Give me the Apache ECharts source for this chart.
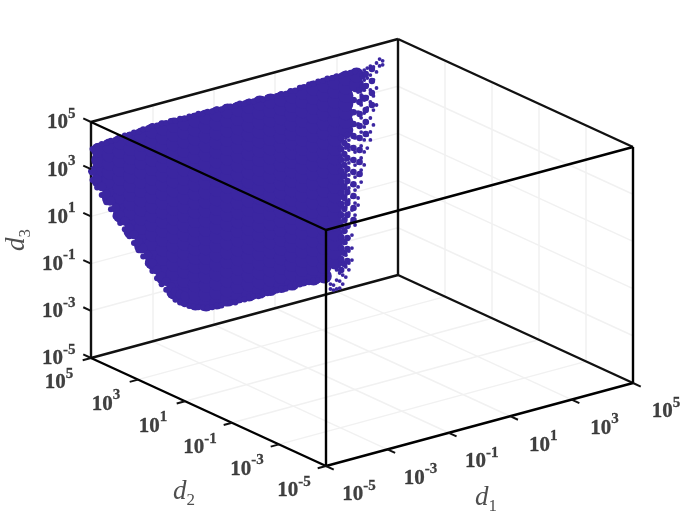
<!DOCTYPE html>
<html>
<head>
<meta charset="utf-8">
<style>
  html, body { margin: 0; padding: 0; background: #fff; }
  #main { width: 700px; height: 525px; }
</style>
<script src="https://cdn.jsdelivr.net/npm/echarts@6/dist/echarts.min.js"></script>
</head>
<body>
<div id="main"></div>
<script>
// decade exponents used on all three log axes
var tickExp = [-5, -3, -1, 1, 3, 5]
var tickLabels = ['-5', '-3', '-1', '1', '3', '5']

// the picture is one view, so the depth of the cloud can't be read: it is put at d2 = 10^5
var cloudD2 = 5

var denseD1 = [-4.75, -4.4, -4.05, -3.7, -3.35, -3, -2.65, -2.3, -1.95, -1.6, -1.25, -0.9, -0.55, -0.2, 0.15, 0.5, 0.85, 1.2, 1.55, 1.9, 2.25, 2.6, 2.95, 3.3, 3.65]
var denseD3 = [
  [2.45, 2.88, 3.3, 3.72],
  [1.57, 1.94, 2.3, 2.67, 3.04, 3.4, 3.77],
  [0.72, 1.11, 1.5, 1.88, 2.27, 2.66, 3.05, 3.43, 3.82],
  [-0.08, 0.31, 0.7, 1.09, 1.48, 1.87, 2.26, 2.65, 3.04, 3.43, 3.82],
  [-0.83, -0.44, -0.05, 0.35, 0.74, 1.13, 1.52, 1.91, 2.31, 2.7, 3.09, 3.48, 3.87],
  [-1.64, -1.24, -0.85, -0.45, -0.05, 0.35, 0.74, 1.14, 1.54, 1.93, 2.33, 2.73, 3.13, 3.52, 3.92],
  [-2.39, -2, -1.6, -1.21, -0.81, -0.42, -0.03, 0.37, 0.76, 1.16, 1.55, 1.94, 2.34, 2.73, 3.13, 3.52, 3.92],
  [-3.15, -2.76, -2.36, -1.97, -1.58, -1.19, -0.79, -0.4, -0.01, 0.39, 0.78, 1.17, 1.56, 1.96, 2.35, 2.74, 3.13, 3.53, 3.92],
  [-3.57, -3.18, -2.79, -2.39, -2, -1.61, -1.21, -0.82, -0.43, -0.03, 0.36, 0.75, 1.15, 1.54, 1.93, 2.32, 2.72, 3.11, 3.5, 3.89],
  [-3.86, -3.47, -3.09, -2.7, -2.31, -1.92, -1.54, -1.15, -0.76, -0.37, 0.02, 0.4, 0.79, 1.18, 1.57, 1.95, 2.34, 2.73, 3.12, 3.5, 3.89],
  [-4.03, -3.63, -3.24, -2.84, -2.45, -2.05, -1.65, -1.26, -0.86, -0.47, -0.07, 0.33, 0.72, 1.12, 1.51, 1.91, 2.31, 2.7, 3.1, 3.49, 3.89],
  [-4.07, -3.67, -3.27, -2.87, -2.48, -2.08, -1.68, -1.28, -0.88, -0.48, -0.09, 0.31, 0.71, 1.11, 1.51, 1.91, 2.31, 2.7, 3.1, 3.5, 3.9],
  [-4.07, -3.67, -3.27, -2.87, -2.48, -2.08, -1.68, -1.28, -0.88, -0.48, -0.09, 0.31, 0.71, 1.11, 1.51, 1.91, 2.31, 2.7, 3.1, 3.5, 3.9],
  [-4.06, -3.66, -3.27, -2.87, -2.48, -2.08, -1.68, -1.29, -0.89, -0.5, -0.1, 0.3, 0.69, 1.09, 1.48, 1.88, 2.28, 2.67, 3.07, 3.46, 3.86],
  [-4.1, -3.7, -3.3, -2.91, -2.51, -2.11, -1.71, -1.31, -0.92, -0.52, -0.12, 0.28, 0.68, 1.07, 1.47, 1.87, 2.27, 2.67, 3.06, 3.46, 3.86],
  [-4.1, -3.7, -3.3, -2.91, -2.51, -2.11, -1.71, -1.31, -0.91, -0.51, -0.12, 0.28, 0.68, 1.08, 1.48, 1.88, 2.27, 2.67, 3.07, 3.47, 3.87],
  [-4.11, -3.71, -3.32, -2.92, -2.52, -2.13, -1.73, -1.33, -0.93, -0.54, -0.14, 0.26, 0.65, 1.05, 1.45, 1.85, 2.24, 2.64, 3.04, 3.43, 3.83],
  [-4.11, -3.72, -3.32, -2.93, -2.53, -2.14, -1.74, -1.35, -0.95, -0.56, -0.16, 0.23, 0.63, 1.02, 1.42, 1.82, 2.21, 2.61, 3, 3.4, 3.79],
  [-4.13, -3.73, -3.34, -2.94, -2.54, -2.15, -1.75, -1.35, -0.96, -0.56, -0.17, 0.23, 0.63, 1.02, 1.42, 1.82, 2.21, 2.61, 3.01, 3.4, 3.8],
  [-4.08, -3.68, -3.29, -2.89, -2.5, -2.1, -1.7, -1.31, -0.91, -0.52, -0.12, 0.28, 0.67, 1.07, 1.46, 1.86, 2.26, 2.65, 3.05, 3.44, 3.84],
  [-4.16, -3.76, -3.36, -2.95, -2.55, -2.15, -1.75, -1.34, -0.94, -0.54, -0.14, 0.27, 0.67, 1.07, 1.47, 1.88, 2.28, 2.68, 3.08, 3.49, 3.89],
  [-4.2, -3.8, -3.39, -2.99, -2.58, -2.18, -1.77, -1.37, -0.96, -0.56, -0.15, 0.25, 0.65, 1.06, 1.46, 1.87, 2.27, 2.68, 3.08, 3.49, 3.89],
  [-3.73, -3.33, -2.93, -2.53, -2.12, -1.72, -1.32, -0.92, -0.52, -0.12, 0.29, 0.69, 1.09, 1.49, 1.89, 2.3, 2.7, 3.1, 3.5, 3.9],
  [1.74, 2.11, 2.47, 2.84, 3.21, 3.57, 3.94],
  [3.53, 3.95]
]

// upper and lower limit of the cloud, read every 0.15 decades of d1
var fringeD1 = [
  -4.95, -4.8, -4.65, -4.5, -4.35, -4.2, -4.05, -3.9, -3.75, -3.6,
  -3.45, -3.3, -3.15, -3, -2.85, -2.7, -2.55, -2.4, -2.25, -2.1,
  -1.95, -1.8, -1.65, -1.5, -1.35, -1.2, -1.05, -0.9, -0.75, -0.6,
  -0.45, -0.3, -0.15, 0, 0.15, 0.3, 0.45, 0.6, 0.75, 0.9,
  1.05, 1.2, 1.35, 1.5, 1.65, 1.8, 1.95, 2.1, 2.25, 2.4,
  2.55, 2.7, 2.85, 3, 3.15, 3.3, 3.45, 3.6
]
var fringeUpper = [
  3.84, 3.9, 3.94, 3.93, 3.98, 3.97, 4, 4.04, 4.02, 4.06,
  4.03, 4.09, 4.07, 4.13, 4.1, 4.14, 4.1, 4.13, 4.09, 4.12,
  4.08, 4.11, 4.07, 4.12, 4.08, 4.1, 4.07, 4.1, 4.05, 4.09,
  4.06, 4.04, 4.08, 4.03, 4.06, 4.01, 4.05, 3.99, 4.02, 3.98,
  3.97, 4.01, 3.96, 4.03, 4, 4.06, 4.04, 4.09, 4.07, 4.11,
  4.08, 4.13, 4.1, 4.12, 4.09, 4.14, 4.11, 4.13
]
var fringeLower = [
  2.53, 2.15, 1.78, 1.42, 1.07, 0.72, 0.39, 0.07, -0.28, -0.62,
  -0.98, -1.3, -1.65, -2.02, -2.38, -2.68, -2.97, -3.25, -3.5, -3.67,
  -3.8, -3.92, -4, -4.08, -4.15, -4.21, -4.24, -4.22, -4.27, -4.23,
  -4.26, -4.3, -4.24, -4.28, -4.22, -4.26, -4.3, -4.25, -4.28, -4.23,
  -4.27, -4.24, -4.3, -4.26, -4.23, -4.28, -4.25, -4.29, -4.26, -4.31,
  -4.28, -4.36
]
var fringeInner = [
  2.9, 2.5, 2.13, 1.77, 1.42, 1.07, 0.74, 0.42, 0.07, -0.27,
  -0.63, -0.95, -1.3, -1.67, -2.03, -2.33, -2.62, -2.9, -3.15, -3.32,
  -3.45
]

// thinner part down the right side: medium blobs, then the loose single points
var midD1 = [3.15, 3.25, 3.35, 3.55, 3.75, 3.85, 3.95, 4.15]
var midD3 = [
  [1.46, 0.99, 0.53, 0.06, -0.41, -0.87, -1.34, -1.81, -2.27, -2.74, -3.2, -3.67, -4.14],
  [1.21, 0.74, 0.28, -0.19, -0.66, -1.12, -1.59, -2.06, -2.52, -2.99, -3.45, -3.92],
  [1.51, 1.05, 0.54, 0.07, -0.44, -0.9, -1.37, -1.88, -2.34, -2.85, -3.32, -3.83],
  [2.92, 2.41, 1.91, 1.4, 0.89, 0.38, -0.13, -0.64, -1.14, -1.65, -2.16],
  [3.28, 2.77, 2.26, 1.75, 1.25, 0.74, 0.23, -0.28],
  [3.84, 3.37, 2.91],
  [3.89, 3.38, 2.87, 2.36, 1.85, 1.34],
  [4.03, 3.52, 3.01, 2.5]
]
var sparseD1 = [4.5, 4.4, 4.3, 4.2, 4.1, 4, 3.9, 3.8, 3.7, 3.6, 3.5, 3.4, 3.3, 3.2, 3.1, 3, 2.9, 2.8]
var sparseD3 = [
  [4.25, 4.08],
  [4.36, 4.07],
  [4.23, 3.85, 3.17, 2.45],
  [4.1, 3.55, 2.87, 2.27, 1.64],
  [4.17, 3.79, 3.16, 2.65, 1.97, 1.38, 1.04],
  [4.12, 3.7, 3.4, 2.89, 2.43, 1.83, 1.28, 0.73],
  [4.07, 3.65, 3.22, 2.8, 2.25, 1.66, 1.11, 0.6, 0.05],
  [3.9, 3.43, 3.05, 2.63, 2.08, 1.48, 0.89, 0.38, -0.13, -0.64],
  [3.21, 2.79, 2.36, 1.86, 1.3, 0.75, 0.2, -0.31, -0.81, -1.28, -1.58],
  [2.91, 2.4, 1.85, 1.3, 0.7, 0.15, -0.36, -0.91, -1.46, -1.97, -2.39],
  [1.46, 0.95, 0.4, -0.11, -0.66, -1.17, -1.72, -2.23, -2.78, -3.33, -3.84],
  [1.28, 0.86, 0.31, -0.2, -0.75, -1.26, -1.81, -2.36, -2.87, -3.42, -3.93, -4.22],
  [1.4, 0.98, 0.47, -0.04, -0.55, -1.01, -1.52, -2.03, -2.54, -3.05, -3.56, -4.06, -4.49],
  [0.29, -0.26, -0.77, -1.32, -1.83, -2.38, -2.89, -3.39, -3.9, -4.37, -4.75],
  [-3.87, -4.25, -4.59, -4.89],
  [-4.08, -4.51, -4.89],
  [-4.69, -4.9],
  [-4.61, -4.82]
]

var cloudColor = '#3b26a1'
var inkColor = '#111'
var gridColor = '#f1f1f1'
var low = -5, high = 5

// fixed view of the box: log10 values to plane coordinates
function project (d1, d2, d3) {
  var u = d1 + 5, v = d2 + 5, w = d3 + 5
  return [326 + 30.7 * u - 23.5 * v, 466 - 8.3 * u - 10.8 * v - 23.6 * w]
}

function edge (a, b) {
  return { coords: [project(a[0], a[1], a[2]), project(b[0], b[1], b[2])] }
}

function linesSeries (name, data, color, width, z) {
  return {
    name: name,
    type: 'lines',
    coordinateSystem: 'cartesian2d',
    polyline: false,
    silent: true,
    z: z,
    lineStyle: { color: color, width: width, opacity: 1, curveness: 0 },
    data: data
  }
}

function columnPoints (d1List, d3Lists) {
  var points = []
  for (var i = 0; i < d1List.length; i++) {
    for (var j = 0; j < d3Lists[i].length; j++) {
      points.push(project(d1List[i], cloudD2, d3Lists[i][j]))
    }
  }
  return points
}

function rowPoints (d1List, d3List) {
  return d3List.map(function (d3, i) { return project(d1List[i], cloudD2, d3) })
}

function cloudSeries (name, points, size) {
  return {
    name: name,
    type: 'scatter',
    symbol: 'circle',
    symbolSize: size,
    silent: true,
    z: 3,
    itemStyle: { color: cloudColor, opacity: 1 },
    data: points
  }
}

// faint grid on the floor and on the two back walls
var gridLines = []
tickExp.forEach(function (t) {
  if (t === low || t === high) return
  gridLines.push(edge([t, low, low], [t, high, low]))
  gridLines.push(edge([low, t, low], [high, t, low]))
  gridLines.push(edge([t, high, low], [t, high, high]))
  gridLines.push(edge([high, t, low], [high, t, high]))
  gridLines.push(edge([low, high, t], [high, high, t]))
  gridLines.push(edge([high, low, t], [high, high, t]))
})

var backEdges = [
  edge([low, high, low], [low, high, high]),
  edge([high, high, low], [high, high, high]),
  edge([low, high, low], [high, high, low]),
  edge([high, high, low], [high, low, low]),
  edge([low, high, high], [high, high, high]),
  edge([high, high, high], [high, low, high])
]
var frontEdges = [
  edge([low, low, low], [low, low, high]),
  edge([high, low, low], [high, low, high]),
  edge([low, low, low], [high, low, low]),
  edge([low, low, low], [low, high, low]),
  edge([low, low, high], [high, low, high]),
  edge([low, low, high], [low, high, high])
]

var tickMarks = []
tickExp.forEach(function (t) {
  tickMarks.push(edge([t, low, low], [t, low - 0.33, low]))
  tickMarks.push(edge([low, t, low], [low - 0.27, t, low]))
  tickMarks.push(edge([low, high, t], [low, high + 0.33, t]))
})

function tickLabelSeries (name, points, offset, position) {
  return {
    name: name,
    type: 'scatter',
    symbolSize: 1,
    silent: true,
    z: 5,
    itemStyle: { color: 'transparent' },
    label: {
      show: true,
      position: position,
      distance: 0,
      offset: offset,
      color: inkColor,
      formatter: function (p) { return '{base|10}{sup|' + tickLabels[p.dataIndex] + '}' },
      rich: {
        base: { fontFamily: 'Liberation Serif', fontWeight: 'bold', fontSize: 21, lineHeight: 27, color: inkColor, textBorderColor: inkColor, textBorderWidth: 0.3, verticalAlign: 'bottom' },
        sup: { fontFamily: 'Liberation Serif', fontWeight: 'bold', fontSize: 15, lineHeight: 27, color: inkColor, textBorderColor: inkColor, textBorderWidth: 0.3, verticalAlign: 'top' }
      }
    },
    data: points
  }
}

function axisName (name, sub, at, rotate) {
  return {
    name: 'axis ' + name,
    type: 'scatter',
    symbolSize: 1,
    silent: true,
    z: 5,
    itemStyle: { color: 'transparent' },
    label: {
      show: true,
      position: 'inside',
      rotate: rotate,
      color: '#222',
      formatter: '{d|d}{s|' + sub + '}',
      rich: {
        d: { fontFamily: 'Liberation Serif', fontStyle: 'italic', fontSize: 27, lineHeight: 31, color: '#222', verticalAlign: 'top' },
        s: { fontFamily: 'Liberation Serif', fontSize: 17, lineHeight: 31, color: '#222', verticalAlign: 'bottom' }
      }
    },
    data: [at]
  }
}

var d1Ticks = tickExp.map(function (t) { return project(t, low, low) })
var d2Ticks = tickExp.map(function (t) { return project(low, t, low) })
var d3Ticks = tickExp.map(function (t) { return project(low, high, t) })

var myChart = echarts.init(document.getElementById('main'))
myChart.setOption({
  animation: false,
  backgroundColor: '#fff',
  grid: { left: 0, right: 0, top: 0, bottom: 0 },
  xAxis: { type: 'value', min: 0, max: 700, show: false },
  yAxis: { type: 'value', min: 0, max: 525, inverse: true, show: false },
  series: [
    linesSeries('grid', gridLines, gridColor, 1.5, 1),
    linesSeries('back edges', backEdges, '#111', 2.4, 2),
    cloudSeries('dense', columnPoints(denseD1, denseD3), 15),
    cloudSeries('upper limit', rowPoints(fringeD1, fringeUpper), 6),
    cloudSeries('lower limit', rowPoints(fringeD1, fringeLower), 6),
    cloudSeries('lower inner', rowPoints(fringeD1, fringeInner), 9),
    cloudSeries('mid', columnPoints(midD1, midD3), 6.5),
    cloudSeries('sparse', columnPoints(sparseD1, sparseD3), 3.8),
    linesSeries('front edges', frontEdges, '#000', 2.4, 4),
    linesSeries('ticks', tickMarks, inkColor, 2, 4),
    tickLabelSeries('d1 labels', d1Ticks, [33, 26], 'inside'),
    tickLabelSeries('d2 labels', d2Ticks, [-32, 22], 'inside'),
    tickLabelSeries('d3 labels', d3Ticks, [-15, -2], 'left'),
    axisName('d1', '1', [486, 500], 0),
    axisName('d2', '2', [184, 494], 0),
    axisName('d3', '3', [19, 240], 90)
  ]
})
</script>
</body>
</html>
